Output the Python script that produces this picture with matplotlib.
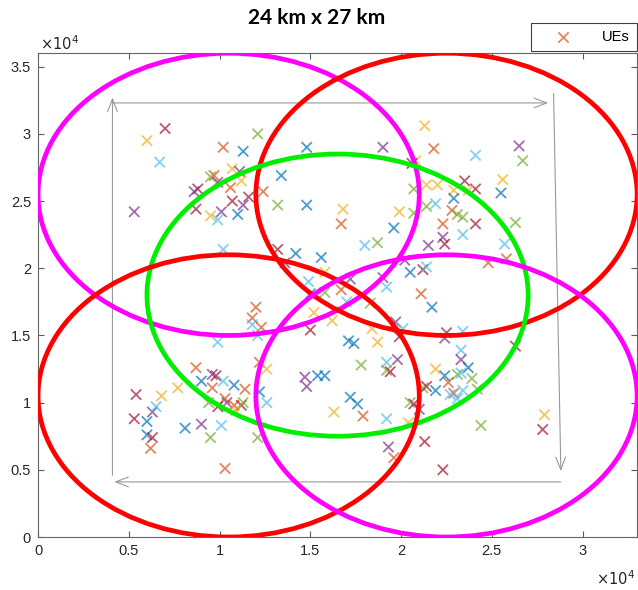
import matplotlib
matplotlib.use('Agg')
import numpy as np
from matplotlib import pyplot as plt
from matplotlib.patches import Circle
from matplotlib.ticker import FuncFormatter, MultipleLocator

# UE positions, in units of 1e4 m
ux = [0.70, 0.60, 0.67, 0.53, 1.02, 1.21, 1.13, 1.48, 1.07, 1.11, 1.12, 0.97, 0.95, 0.99, 0.88, 0.86,
      1.06, 1.34, 1.24, 1.16, 1.07, 1.13, 1.32, 1.48, 0.87, 0.95, 0.99, 1.01, 1.10, 1.02, 1.32, 1.42,
      1.56, 1.36, 1.58, 1.49, 1.50, 1.58, 1.67, 1.52, 1.20, 1.18, 1.18, 1.23, 1.21, 0.99,
      2.13, 1.90, 2.18, 2.41, 2.65, 2.67, 2.08, 2.06, 2.07, 2.14, 2.20, 2.35, 2.41, 2.29, 2.37, 2.56,
      2.55, 2.29, 1.68, 1.67, 1.99, 2.07, 2.14, 2.19, 2.28, 2.31, 2.34, 2.23, 2.41, 2.63, 1.96, 1.80,
      1.87, 2.15, 2.23, 2.24, 2.34, 2.57, 2.48, 2.58, 2.02, 2.05, 2.12, 2.14, 1.72, 1.90, 1.92, 2.11,
      2.17, 1.70, 1.83,
      0.87, 0.96, 0.98, 0.90, 0.96, 1.02, 1.08, 1.14, 1.22, 1.26, 1.22, 1.26, 1.03, 1.04, 1.08, 1.12,
      1.13, 1.09, 0.94, 0.99, 0.54, 0.68, 0.77, 0.53, 0.63, 0.65, 0.60, 0.60, 0.63, 0.62, 0.81, 0.90,
      1.01, 0.95, 1.21, 1.03, 1.50, 1.62,
      1.47, 1.48, 1.54, 1.58, 1.63, 1.97, 1.84, 1.87, 1.71, 1.74, 2.01, 1.99, 2.25, 2.24, 2.34, 2.33,
      1.78, 1.92, 1.98, 1.92, 1.94, 2.19, 2.24, 2.33, 2.31, 2.26, 2.29, 2.12, 2.14, 2.19, 2.27, 2.31,
      1.72, 1.76, 1.79, 1.92, 2.05, 2.07, 2.10, 2.04, 2.13, 1.93, 1.96, 2.23, 2.63, 2.37, 2.33, 2.39,
      2.42, 2.34, 2.44, 2.79, 2.78]
uy = [3.04, 2.95, 2.79, 2.42, 2.90, 3.00, 2.87, 2.90, 2.74, 2.72, 2.65, 2.69, 2.68, 2.64, 2.59, 2.57,
      2.60, 2.69, 2.57, 2.53, 2.50, 2.47, 2.47, 2.47, 2.44, 2.39, 2.36, 2.42, 2.40, 2.14, 2.14, 2.11,
      2.08, 2.04, 1.97, 1.90, 1.81, 1.82, 1.84, 1.67, 1.71, 1.63, 1.58, 1.56, 1.50, 1.45,
      3.06, 2.90, 2.89, 2.84, 2.91, 2.80, 2.80, 2.78, 2.59, 2.62, 2.62, 2.65, 2.59, 2.58, 2.58, 2.66,
      2.56, 2.52, 2.44, 2.33, 2.42, 2.41, 2.46, 2.48, 2.43, 2.40, 2.38, 2.33, 2.33, 2.34, 2.30, 2.17,
      2.19, 2.17, 2.23, 2.18, 2.25, 2.18, 2.04, 2.07, 2.06, 1.97, 1.99, 2.01, 1.92, 1.93, 1.86, 1.81,
      1.71, 1.75, 1.74,
      1.26, 1.21, 1.20, 1.16, 1.11, 1.16, 1.13, 1.10, 1.08, 1.00, 1.30, 1.25, 1.03, 1.00, 0.98, 0.98,
      1.00, 0.94, 1.00, 0.97, 1.06, 1.05, 1.11, 0.88, 0.93, 0.97, 0.86, 0.76, 0.74, 0.66, 0.81, 0.84,
      0.83, 0.74, 0.74, 0.51, 1.54, 1.61,
      1.19, 1.12, 1.20, 1.20, 0.93, 1.60, 1.55, 1.45, 1.46, 1.44, 1.55, 1.49, 1.52, 1.48, 1.53, 1.39,
      1.28, 1.30, 1.32, 1.24, 1.23, 1.25, 1.20, 1.32, 1.21, 1.15, 1.07, 1.11, 1.12, 1.09, 1.06, 1.03,
      1.04, 0.99, 0.90, 0.88, 1.00, 0.99, 0.95, 0.85, 0.71, 0.67, 0.59, 0.50, 1.42, 1.26, 1.22, 1.18,
      1.10, 1.09, 0.83, 0.91, 0.80]
ucol = list('RYCPOGBBYPYOGPRPOBORRPGBRYCPBCRBBPYCBGOYOOCOCC'
            'YPOCPGYRGYYRRYYYBBYOYGGCOGGORGBCGPPRCCOOPBRCPPCOBCG'
            'OPRBOCBOBCOYOPORGYGRRYYRPCBBROBPCGGORY'
            'PPBBYPYYBBCRRPCCGCPGRYBPGOOGRBCCBBOCGRPYRPORRBCGGCGYR')

# cell sites: centres (1e4 m) and colours, common radius
cell_x = [1.05, 2.25, 1.65, 1.05, 2.25]
cell_y = [2.55, 2.55, 1.80, 1.05, 1.05]
cell_col = ['#FF00FF', '#FF0000', '#00EE00', '#FF0000', '#FF00FF']
cell_r = 1.05

# 24 km x 27 km boundary arrows (start, end) in 1e4 m
arr_from = [(0.41, 3.23), (2.84, 3.30), (2.88, 0.41), (0.41, 0.46)]
arr_to = [(2.81, 3.23), (2.88, 0.49), (0.42, 0.41), (0.41, 3.27)]

palette = {'B': '#0072BD', 'O': '#D95319', 'Y': '#EDB120', 'P': '#7E2F8E',
           'G': '#77AC30', 'C': '#4DBEEE', 'R': '#A2142F'}

plt.rcParams['font.family'] = ['Liberation Sans', 'DejaVu Sans']

fig = plt.figure(figsize=(6.38, 5.90), dpi=100)
ax = fig.add_axes([0.0596, 0.0898, 0.939, 0.820])

n = min(len(ux), len(uy), len(ucol))
ux = np.array(ux[:n]) * 1e4
uy = np.array(uy[:n]) * 1e4
cols = [palette[c] for c in ucol[:n]]
ax.scatter(ux, uy, marker='x', s=55, c=cols, linewidths=1.3, alpha=0.7, zorder=2, label='UEs')

for cx, cy, cc in zip(cell_x, cell_y, cell_col):
    ax.add_patch(Circle((cx * 1e4, cy * 1e4), cell_r * 1e4, fill=False, ec=cc, lw=3.4, zorder=3))

for (x0, y0), (x1, y1) in zip(arr_from, arr_to):
    ax.annotate('', xy=(x1 * 1e4, y1 * 1e4), xytext=(x0 * 1e4, y0 * 1e4),
                arrowprops=dict(arrowstyle='->,head_length=0.9,head_width=0.35',
                                color='0.6', lw=0.8, shrinkA=0, shrinkB=0), zorder=1)

ax.set_xlim(0, 3.3e4)
ax.set_ylim(0, 3.6e4)
ax.xaxis.set_major_locator(MultipleLocator(5000))
ax.yaxis.set_major_locator(MultipleLocator(5000))
fmt = FuncFormatter(lambda v, p: '%g' % (v / 1e4))
ax.xaxis.set_major_formatter(fmt)
ax.yaxis.set_major_formatter(fmt)
ax.tick_params(direction='in', top=True, right=True, length=4, width=0.8,
               labelsize=10.5, colors='0.35', labelcolor='0.15', pad=5)
for sp in ax.spines.values():
    sp.set_color('0.4')
    sp.set_linewidth(0.8)

fig.text(0.063, 0.926, r'$\times10^4$', fontsize=10.5, color='0.15', ha='left', va='center')
fig.text(0.995, 0.020, r'$\times10^4$', fontsize=10.5, color='0.15', ha='right', va='center')
fig.text(0.496, 0.969, '24 km x 27 km', fontsize=15, fontweight='bold',
         family=['Lato', 'DejaVu Sans'], ha='center', va='center')

leg = ax.legend(loc='lower right', bbox_to_anchor=(1.0, 1.004), fancybox=False,
                edgecolor='0.25', fontsize=10.5, borderpad=0.5, handlelength=3.4,
                handletextpad=1.0, borderaxespad=0.0, framealpha=1)
leg.legend_handles[0].set_color(palette['O'])
leg.get_frame().set_linewidth(0.8)

fig.savefig('out.png', dpi=100)
